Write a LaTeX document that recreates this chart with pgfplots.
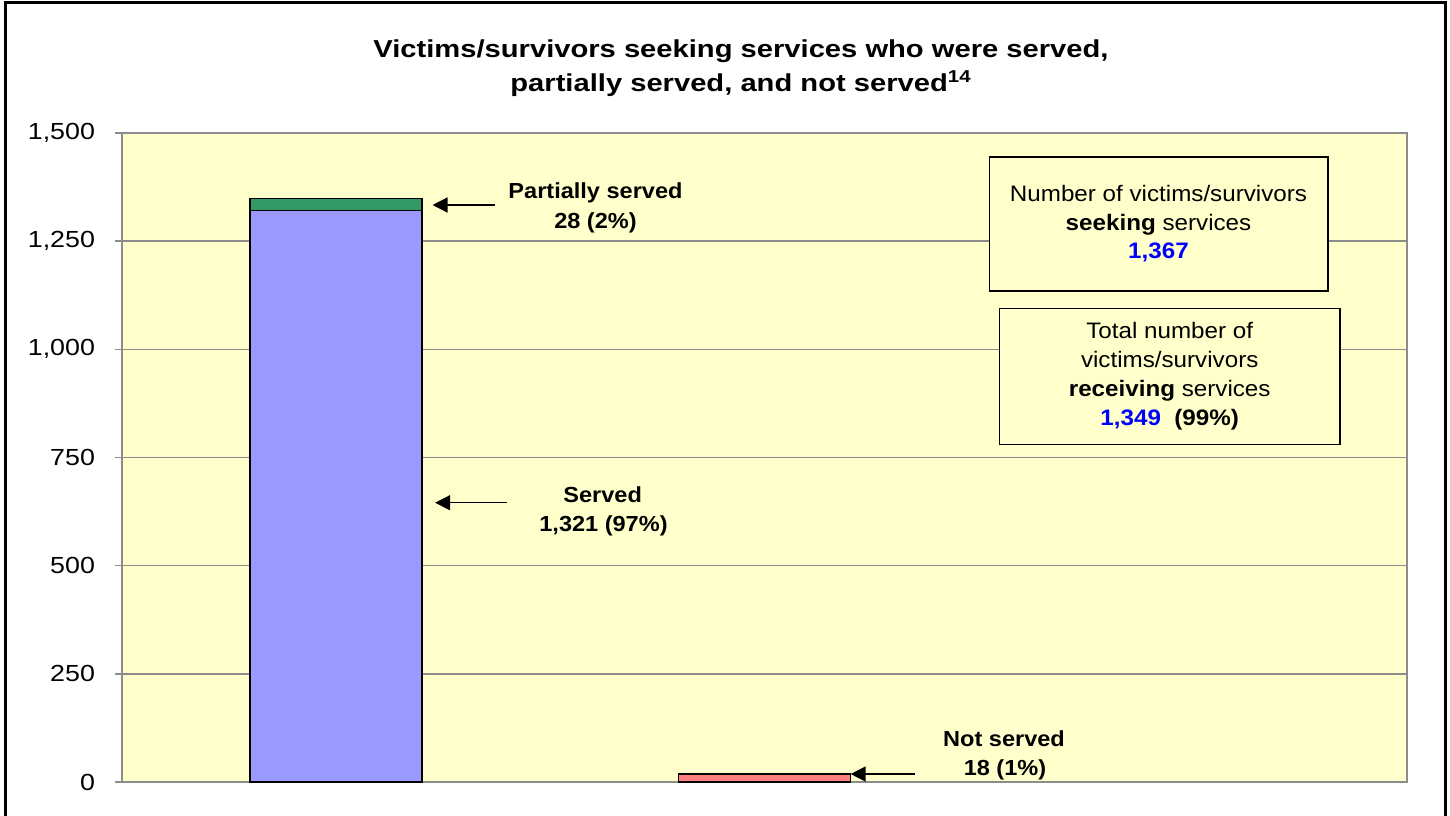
\documentclass[border=0pt]{standalone}
\usepackage{fontspec}
\setmainfont{Liberation Sans}
\newfontfamily\titlefont{Liberation Sans}[FakeStretch=1.19]
\newfontfamily\tickfont{Liberation Sans}[FakeStretch=1.15]
\newfontfamily\labfont{Liberation Sans}[FakeStretch=1.08]
\usepackage{pgfplots}
\pgfplotsset{compat=1.18}
\usetikzlibrary{arrows.meta}
\definecolor{plotbg}{HTML}{FFFFCC}
\definecolor{servedblue}{HTML}{9999FF}
\definecolor{partgreen}{HTML}{339966}
\definecolor{notred}{HTML}{FF8080}
\definecolor{gridgray}{HTML}{8C8C8C}
\definecolor{numblue}{HTML}{0000FF}
\begin{document}
\begin{tikzpicture}
\useasboundingbox (0,0) rectangle (725pt,-407.5pt);
\fill[white] (0,0) rectangle (725pt,-407.5pt);
\begin{axis}[
  at={(61pt,-66.5pt)}, anchor=north west,
  scale only axis, width=642.5pt, height=324.5pt,
  xmin=-0.5, xmax=2.5, ymin=0, ymax=1500,
  ytick={0,250,500,750,1000,1250,1500},
  xtick=\empty,
  ybar stacked, bar width=86pt,
  axis background/.style={fill=plotbg},
  axis line style={gridgray, line width=0.8pt},
  ymajorgrids, major grid style={gridgray, line width=0.8pt},
  tick style={gridgray, line width=0.8pt},
  tick align=outside, ytick pos=left, major tick length=3.5pt,
  yticklabel style={font=\tickfont\fontsize{11.65}{14}\selectfont, xshift=-6.5pt},
  /pgf/number format/assume math mode=true,
  /pgf/number format/1000 sep={,},
  clip=false,
]
\addplot[fill=servedblue, draw=black, line width=0.75pt] coordinates {(0,1321) (1,0)};
\addplot[fill=partgreen, draw=black, line width=0.75pt] coordinates {(0,28) (1,0)};
\addplot[fill=notred, draw=black, line width=0.75pt] coordinates {(0,0) (1,18)};
\draw[-{Triangle[length=7.5pt,width=7.5pt]}, line width=0.7pt] (axis cs:0.371,1333.6) -- (axis cs:0.225,1333.6);
\draw[-{Triangle[length=7.5pt,width=7.5pt]}, line width=0.7pt] (axis cs:0.398,645.5) -- (axis cs:0.231,645.5);
\draw[-{Triangle[length=7.5pt,width=7.5pt]}, line width=0.7pt] (axis cs:1.351,18.5) -- (axis cs:1.201,18.5);
\end{axis}
\begin{scope}[x=0.5pt, y=-0.5pt]
% outer frame
\draw[black, line width=1.5pt] (5,840) -- (5,2) -- (1445,2) -- (1445,840);
% title
\node[anchor=base, font=\titlefont\bfseries\fontsize{12.25}{15}\selectfont, inner sep=0pt] at (741,57.7) {Victims/survivors seeking services who were served,};
\node[anchor=base, font=\titlefont\bfseries\fontsize{12.25}{15}\selectfont, inner sep=0pt] at (741,91.7) {partially served, and not served\textsuperscript{14}};
% labels
\begin{scope}[every node/.style={anchor=base, inner sep=0pt, font=\labfont\bfseries\fontsize{10.9}{13}\selectfont}]
\node at (595.5,198.3) {Partially served};
\node at (595.5,228.3) {28 (2\%)};
\node at (602.7,502.7) {Served};
\node at (603.5,531.7) {1,321 (97\%)};
\node at (1004,746.7) {Not served};
\node at (1005,775) {18 (1\%)};
\end{scope}
% boxes
\node[draw=black, line width=0.8pt, fill=plotbg, minimum width=169.2pt, minimum height=67pt, inner sep=0pt, align=center,
  font=\labfont\fontsize{11.2}{14.4}\selectfont] at (1158.5,223.7)
  {Number of victims/survivors\\\textbf{seeking} services\\\textcolor{numblue}{\textbf{1,367}}};
\node[draw=black, line width=0.8pt, fill=plotbg, minimum width=170.35pt, minimum height=68pt, inner sep=0pt, align=center,
  font=\labfont\fontsize{11.2}{14.4}\selectfont] at (1169.7,376.3)
  {Total number of\\victims/survivors\\\textbf{receiving} services\\\textcolor{numblue}{\textbf{1,349}}\ \ \textbf{(99\%)}};
\end{scope}
\end{tikzpicture}
\end{document}
